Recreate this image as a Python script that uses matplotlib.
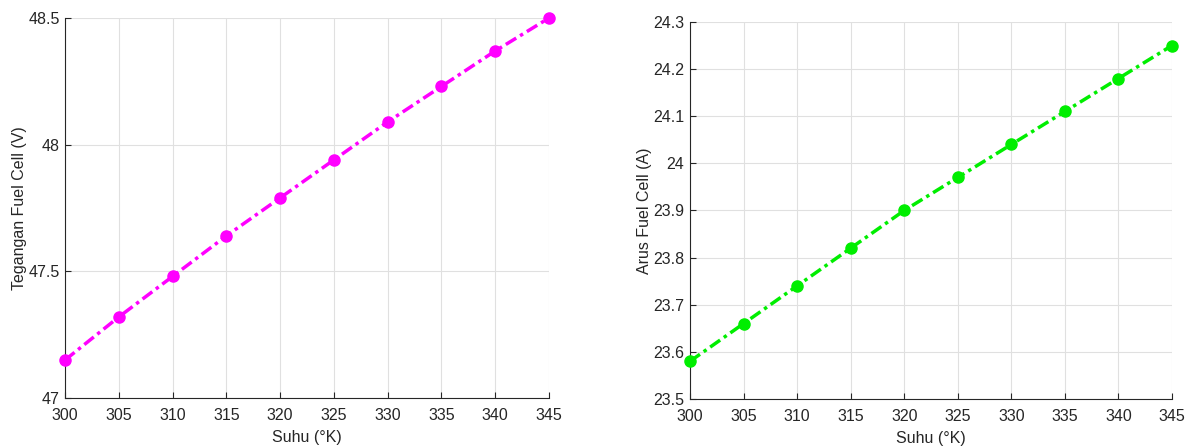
import numpy as np
import matplotlib
matplotlib.use('Agg')
import matplotlib.pyplot as plt

plt.rcParams['font.family'] = ['Liberation Sans', 'DejaVu Sans']

suhu = [300, 305, 310, 315, 320, 325, 330, 335, 340, 345]
tegangan = [47.15, 47.32, 47.48, 47.64, 47.79, 47.94, 48.09, 48.23, 48.37, 48.50]
arus = [23.58, 23.66, 23.74, 23.82, 23.90, 23.97, 24.04, 24.11, 24.18, 24.25]

yticks_v = [47, 47.5, 48, 48.5]
yticklabels_v = ['47', '47.5', '48', '48.5']
yticks_a = [23.5, 23.6, 23.7, 23.8, 23.9, 24.0, 24.1, 24.2, 24.3]
yticklabels_a = ['23.5', '23.6', '23.7', '23.8', '23.9', '24', '24.1', '24.2', '24.3']

fig = plt.figure(figsize=(11.85, 4.48), dpi=100)
ax1 = fig.add_axes([0.0549, 0.1116, 0.4084, 0.8482])
ax2 = fig.add_axes([0.5823, 0.1094, 0.4067, 0.8416])


def style(ax, y, color, ylabel, yticks, yticklabels, ylim):
    ax.plot(suhu, y, color=color, linestyle='-.', linewidth=2.5,
            marker='o', markersize=8, dashes=(3.5, 1.3, 1, 1.3), clip_on=False, zorder=3)
    ax.set_xlim(300, 345)
    ax.set_ylim(*ylim)
    ax.set_xticks(suhu)
    ax.set_yticks(yticks)
    ax.set_yticklabels(yticklabels)
    ax.grid(True, color='#e0e0e0', linewidth=0.8)
    ax.set_axisbelow(True)
    for s in ['top', 'right']:
        ax.spines[s].set_visible(False)
    for s in ['left', 'bottom']:
        ax.spines[s].set_color('#262626')
        ax.spines[s].set_linewidth(0.8)
    ax.tick_params(direction='in', length=4, width=0.8, colors='#262626',
                   labelsize=11.5)
    ax.tick_params(axis='x', pad=7)
    ax.tick_params(axis='y', pad=4)
    ax.set_xlabel('Suhu (°K)', fontsize=11.5, color='#262626', labelpad=5)
    ax.set_ylabel(ylabel, fontsize=11.5, color='#262626', labelpad=1)


style(ax1, tegangan, '#ff00ff', 'Tegangan Fuel Cell (V)', yticks_v, yticklabels_v, (47, 48.5))
style(ax2, arus, '#00ee00', 'Arus Fuel Cell (A)', yticks_a, yticklabels_a, (23.5, 24.3))

fig.savefig('out.png', dpi=100)
